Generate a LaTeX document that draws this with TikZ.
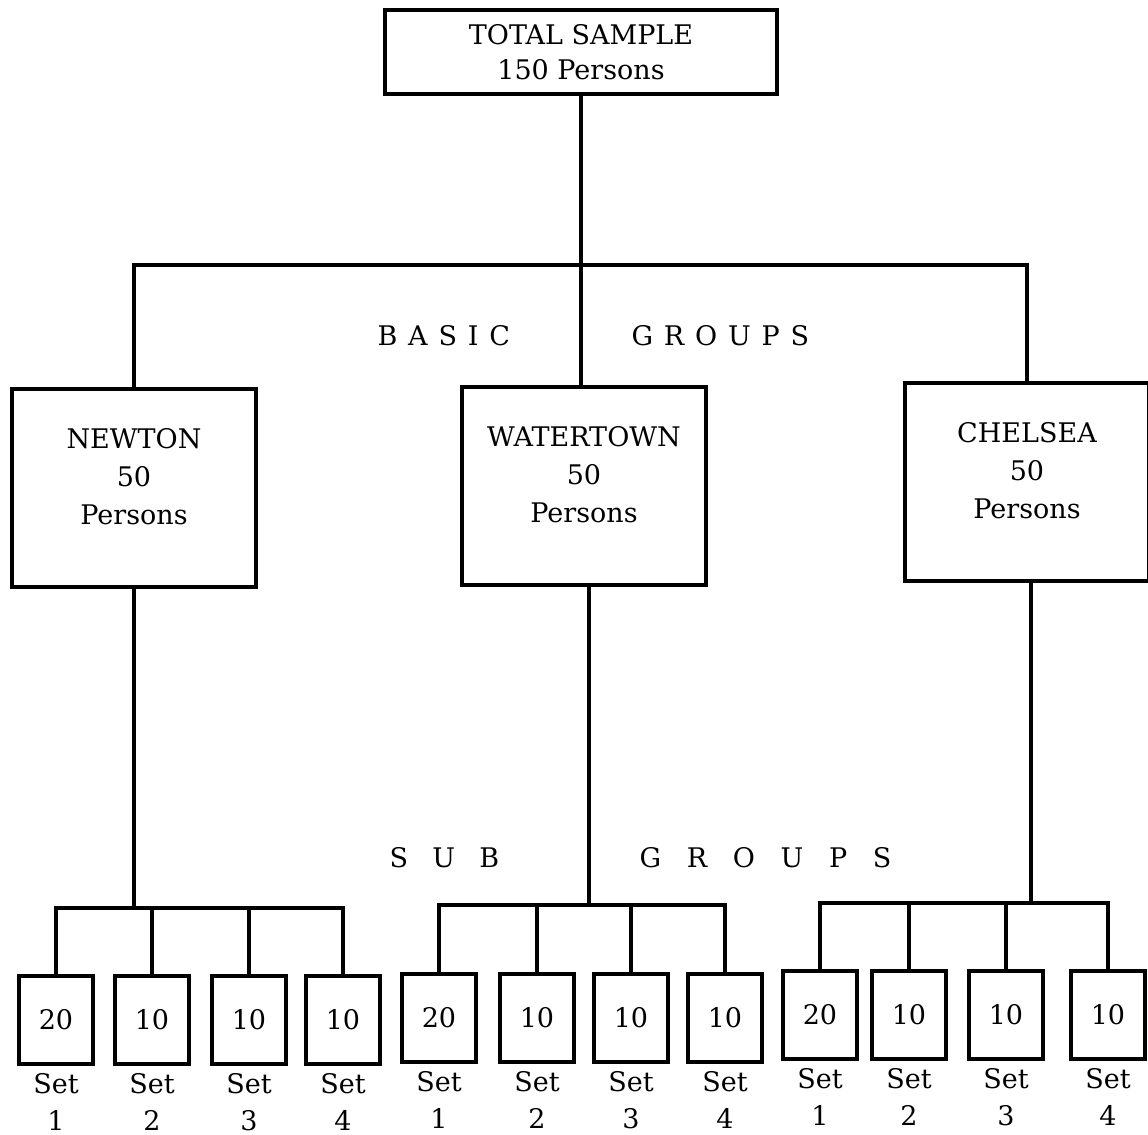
\documentclass[tikz,border=0pt]{standalone}
\usepackage{fontspec}
\setmainfont{DejaVu Serif}
\usetikzlibrary{positioning}

\begin{document}
\begin{tikzpicture}[x=0.5pt,y=-0.5pt,line width=1.6pt,
  topbox/.style={draw,minimum width=196pt,minimum height=42pt,align=center,inner sep=0pt,font=\fontsize{13.5}{17.5}\selectfont},
  grpbox/.style={draw,minimum width=122pt,minimum height=99pt,align=center,inner sep=0pt,text depth=12pt,font=\fontsize{13.5}{19}\selectfont},
  setbox/.style={draw,line width=1.9pt,minimum width=37pt,minimum height=44pt,inner sep=0pt,font=\fontsize{13.5}{14}\selectfont},
  setlbl/.style={align=center,inner sep=0pt,font=\fontsize{13.5}{18.5}\selectfont},
  spread/.style={anchor=west,inner sep=0pt,font=\fontsize{13.5}{14}\selectfont\addfontfeature{LetterSpace=#1}}]
  \useasboundingbox (0,0) rectangle (1148,1135);
  \node[topbox] (top) at (581,52) {TOTAL SAMPLE\\150 Persons};
  \node[grpbox] (newton)  at (134,488) {NEWTON\\50\\Persons};
  \node[grpbox] (water)   at (584,486) {WATERTOWN\\50\\Persons};
  \node[grpbox] (chelsea) at (1027,482) {CHELSEA\\50\\Persons};
  \node[spread=40] (basic) at (376,336) {BASIC};
  \node[spread=40] (groups) at (630,336) {GROUPS};
  \node[spread=90] (sub) at (388,858) {SUB};
  \node[spread=95] (subgroups) at (638,858) {GROUPS};
  % upper tree
  \coordinate (bj) at (581,265);
  \draw (top.south) -- (bj);
  \draw (newton.north) |- (bj) -| (chelsea.north);
  \draw (bj) -- (bj |- water.north);
  % sub groups
  \foreach \g/\x/\y/\v/\k in {n1/56/1020/20/1,n2/152/1020/10/2,n3/249/1020/10/3,n4/343/1020/10/4,
      w1/439/1018/20/1,w2/537/1018/10/2,w3/631/1018/10/3,w4/725/1018/10/4,
      c1/820/1015/20/1,c2/909/1015/10/2,c3/1006/1015/10/3,c4/1108/1015/10/4} {
    \node[setbox] (\g) at (\x,\y) {\v};
    \node[setlbl,below=3pt of \g] (\g l) {Set\\\k};
  }
  \coordinate (nbar) at (134,908);
  \coordinate (wbar) at (589,905);
  \coordinate (cbar) at (1031,903);
  \draw (newton.south) -- (nbar);
  \draw (water.south -| wbar) -- (wbar);
  \draw (chelsea.south -| cbar) -- (cbar);
  \draw (n1.north) |- (n4.north |- nbar) -- (n4.north);
  \draw (w1.north) |- (w4.north |- wbar) -- (w4.north);
  \draw (c1.north) |- (c4.north |- cbar) -- (c4.north);
  \foreach \g/\b in {n2/nbar,n3/nbar,w2/wbar,w3/wbar,c2/cbar,c3/cbar}
    \draw (\g.north) -- (\g.north |- \b);
\end{tikzpicture}
\end{document}
